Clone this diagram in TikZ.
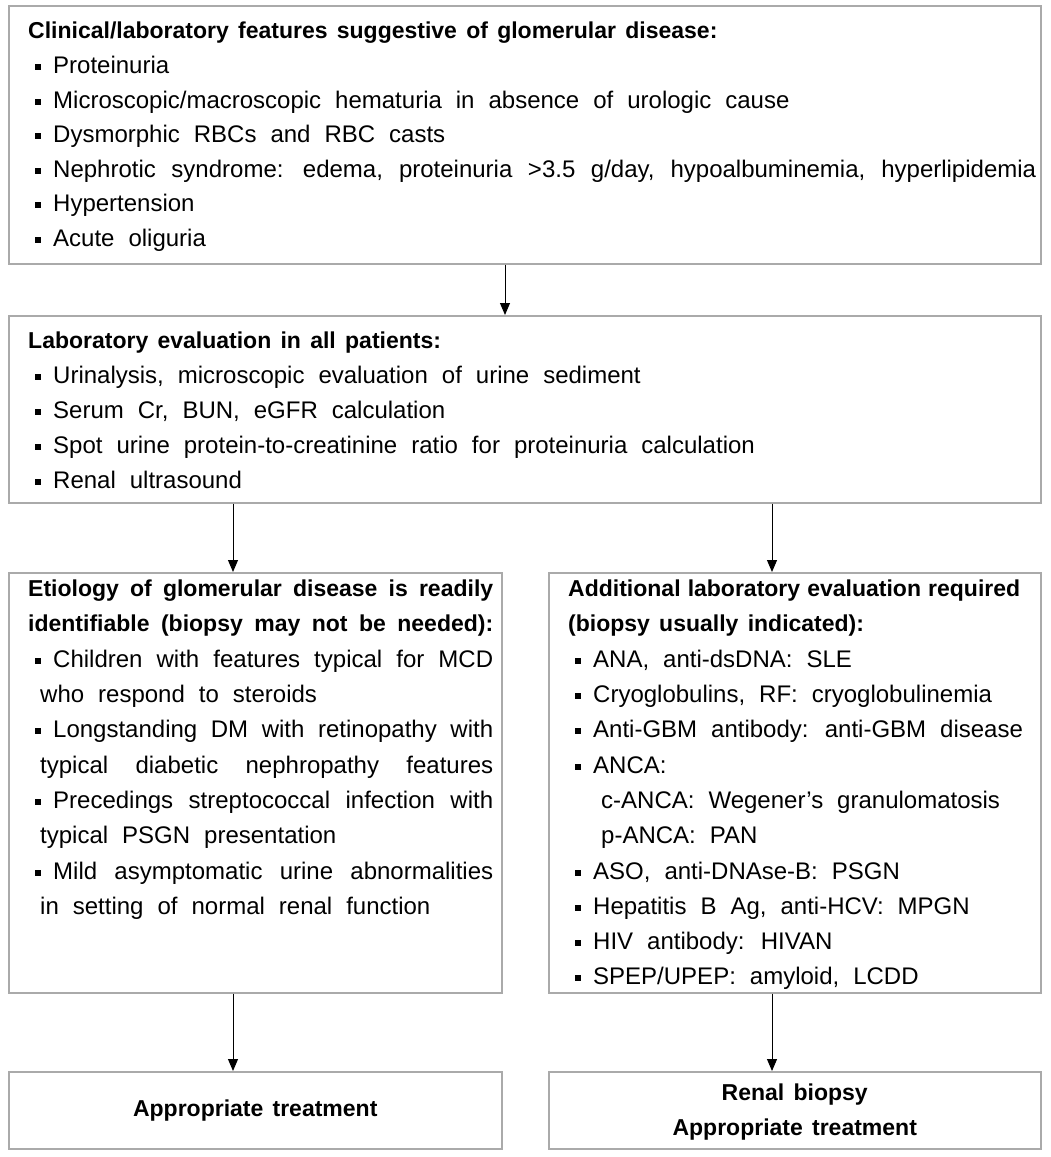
\documentclass[tikz,border=0pt]{standalone}
\usepackage{fontspec}
\setmainfont{Liberation Sans}[WordSpace=2.1, BoldFeatures={WordSpace=1.45}]
\usetikzlibrary{arrows.meta}
\definecolor{boxgray}{HTML}{AAAAAA}
\newcommand{\bl}{\rule[3.5pt]{5.5pt}{5.5pt}\hspace{12.5pt}}
\newcommand{\jl}[2]{\makebox[#1pt][s]{#2}}
\tikzset{
  box/.style={draw=boxgray, line width=1.5pt, anchor=north west, inner sep=0pt},
  arr/.style={-{Triangle[width=10pt,length=12pt]}, line width=1pt, draw=black},
  tx/.style={anchor=base west, inner sep=0pt, font=\fontsize{24}{28}\selectfont},
  hd/.style={anchor=base west, inner sep=0pt, font=\fontsize{23}{28}\selectfont\bfseries},
  ctr/.style={inner sep=0pt, align=center, font=\fontsize{23}{35}\selectfont\bfseries},
}
\begin{document}
\begin{tikzpicture}[x=1pt,y=-1pt]
\useasboundingbox[fill=white] (0,0) rectangle (1051,1157);
% boxes
\node[box, minimum width=1032pt, minimum height=258pt] (b1) at (8,5) {};
\node[box, minimum width=1032pt, minimum height=187pt] (b2) at (8,315) {};
\node[box, minimum width=493pt, minimum height=420pt] (b3) at (8,572) {};
\node[box, minimum width=492pt, minimum height=420pt] (b4) at (548,572) {};
\node[box, minimum width=493pt, minimum height=77pt] (b5) at (8,1071) {};
\node[box, minimum width=492pt, minimum height=77pt] (b6) at (548,1071) {};
% arrows
\draw[arr] (b1.south -| 505,0) -- (b2.north -| 505,0);
\draw[arr] (b2.south -| 233,0) -- (b3.north -| 233,0);
\draw[arr] (b2.south -| 772,0) -- (b4.north -| 772,0);
\draw[arr] (b3.south -| 233,0) -- (b5.north -| 233,0);
\draw[arr] (b4.south -| 772,0) -- (b6.north -| 772,0);
% box 1
\node[hd] (t11) at (28,38) {Clinical/laboratory features suggestive of glomerular disease:};
\node[tx] (t12) at (35,73) {\bl Proteinuria};
\node[tx] (t13) at (35,108) {\bl Microscopic/macroscopic hematuria in absence of urologic cause};
\node[tx] (t14) at (35,142) {\bl Dysmorphic RBCs and RBC casts};
\node[tx] (t15) at (35,177) {\jl{1001}{\bl Nephrotic syndrome: edema, proteinuria >3.5 g/day, hypoalbuminemia, hyperlipidemia}};
\node[tx] (t16) at (35,211) {\bl Hypertension};
\node[tx] (t17) at (35,246) {\bl Acute oliguria};
% box 2
\node[hd] (t21) at (28,348) {Laboratory evaluation in all patients:};
\node[tx] (t22) at (35,383) {\bl Urinalysis, microscopic evaluation of urine sediment};
\node[tx] (t23) at (35,418) {\bl Serum Cr, BUN, eGFR calculation};
\node[tx] (t24) at (35,453) {\bl Spot urine protein-to-creatinine ratio for proteinuria calculation};
\node[tx] (t25) at (35,488) {\bl Renal ultrasound};
% box 3
\node[hd] (t31) at (28,596) {\jl{465}{Etiology of glomerular disease is readily}};
\node[hd] (t32) at (28,631) {\jl{465}{identifiable (biopsy may not be needed):}};
\node[tx] (t33) at (35,667) {\jl{458}{\bl Children with features typical for MCD}};
\node[tx] (t34) at (40,702) {who respond to steroids};
\node[tx] (t35) at (35,737) {\jl{458}{\bl Longstanding DM with retinopathy with}};
\node[tx] (t36) at (40,773) {\jl{453}{typical diabetic nephropathy features}};
\node[tx] (t37) at (35,808) {\jl{458}{\bl Precedings streptococcal infection with}};
\node[tx] (t38) at (40,843) {typical PSGN presentation};
\node[tx] (t39) at (35,879) {\jl{458}{\bl Mild asymptomatic urine abnormalities}};
\node[tx] (t3a) at (40,914) {in setting of normal renal function};
% box 4
\node[hd] (t41) at (568,596) {\jl{452}{Additional laboratory evaluation required}};
\node[hd] (t42) at (568,631) {(biopsy usually indicated):};
\node[tx] (t43) at (575,667) {\bl ANA, anti-dsDNA: SLE};
\node[tx] (t44) at (575,702) {\bl Cryoglobulins, RF: cryoglobulinemia};
\node[tx] (t45) at (575,737) {\bl Anti-GBM antibody: anti-GBM disease};
\node[tx] (t46) at (575,773) {\bl ANCA:};
\node[tx] (t47) at (601,808) {c-ANCA: Wegener’s granulomatosis};
\node[tx] (t48) at (601,843) {p-ANCA: PAN};
\node[tx] (t49) at (575,879) {\bl ASO, anti-DNAse-B: PSGN};
\node[tx] (t4a) at (575,914) {\bl Hepatitis B Ag, anti-HCV: MPGN};
\node[tx] (t4b) at (575,949) {\bl HIV antibody: HIVAN};
\node[tx] (t4c) at (575,984) {\bl SPEP/UPEP: amyloid, LCDD};
% bottom
\node[ctr] (t51) at (b5.center) {Appropriate treatment};
\node[ctr] (t61) at ([yshift=-2pt]b6.center) {Renal biopsy\\Appropriate treatment};
\end{tikzpicture}
\end{document}
